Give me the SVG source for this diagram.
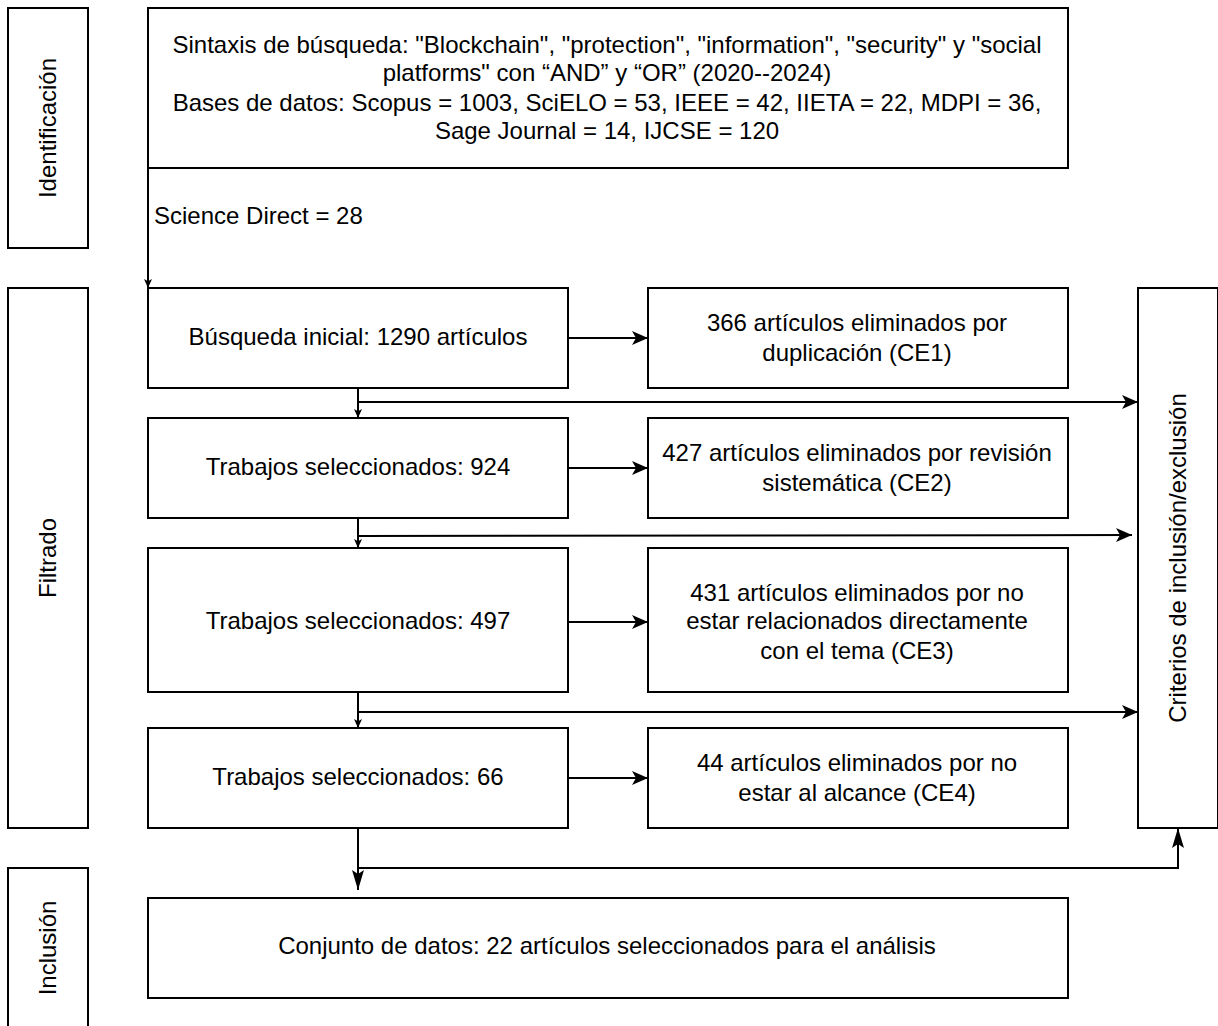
<svg xmlns="http://www.w3.org/2000/svg" width="1218" height="1026" viewBox="0 0 1218 1026">
<style>
.box{fill:#fff;stroke:#000;stroke-width:2}
.t{font-family:"Liberation Sans",Arial,sans-serif;font-size:24px;fill:#000;text-anchor:middle}
.tl{font-family:"Liberation Sans",Arial,sans-serif;font-size:24px;fill:#000}
.c{fill:none;stroke:#000;stroke-width:2}
</style>
<defs>
<marker id="big" markerUnits="userSpaceOnUse" markerWidth="16" markerHeight="14" refX="16" refY="7" orient="auto">
<path d="M0,0 L16,7 L0,14 L4,7 z" fill="#000"/>
</marker>
<marker id="tall" markerUnits="userSpaceOnUse" markerWidth="20" markerHeight="12" refX="20" refY="6" orient="auto">
<path d="M0,0 L20,6 L0,12 L4,6 z" fill="#000"/>
</marker>
<marker id="small" markerUnits="userSpaceOnUse" markerWidth="9" markerHeight="8" refX="9" refY="4" orient="auto">
<path d="M0,0 L9,4 L0,8 L2.2,4 z" fill="#000"/>
</marker>
</defs>
<g id="connectors">
<path class="c" d="M148,168 L148,288" marker-end="url(#small)"/>
<path class="c" d="M568,338 L648,338" marker-end="url(#big)"/>
<path class="c" d="M568,468 L648,468" marker-end="url(#big)"/>
<path class="c" d="M568,622 L648,622" marker-end="url(#big)"/>
<path class="c" d="M568,778 L648,778" marker-end="url(#big)"/>
<path class="c" d="M358,388 L358,418" marker-end="url(#small)"/>
<path class="c" d="M358,518 L358,548" marker-end="url(#small)"/>
<path class="c" d="M358,692 L358,728" marker-end="url(#small)"/>
<path class="c" d="M358,402 L1138,402" marker-end="url(#big)"/>
<path class="c" d="M358,536 L1132,535" marker-end="url(#big)"/>
<path class="c" d="M358,712 L1138,712" marker-end="url(#big)"/>
<path class="c" d="M358,828 L358,890" marker-end="url(#tall)"/>
<path class="c" d="M358,868 L1178,868 L1178,828" marker-end="url(#tall)"/>
</g>
<g id="identificacion">
<rect class="box" x="8" y="8" width="80" height="240"/>
<text class="t" transform="translate(56,128) rotate(-90)">Identificación</text>
</g>
<g id="filtrado">
<rect class="box" x="8" y="288" width="80" height="540"/>
<text class="t" transform="translate(56,558) rotate(-90)">Filtrado</text>
</g>
<g id="inclusion">
<rect class="box" x="8" y="868" width="80" height="170"/>
<text class="t" transform="translate(56,948) rotate(-90)">Inclusión</text>
</g>
<g id="criterios">
<rect class="box" x="1138" y="288" width="80" height="540"/>
<text class="t" transform="translate(1186,558) rotate(-90)">Criterios de inclusión/exclusión</text>
</g>
<g id="busqueda-sintaxis">
<rect class="box" x="148" y="8" width="920" height="160"/>
<text class="t" x="607" y="52.5">Sintaxis de búsqueda: "Blockchain", "protection", "information", "security" y "social</text>
<text class="t" x="607" y="80.5">platforms" con “AND” y “OR” (2020--2024)</text>
<text class="t" x="607" y="110.5">Bases de datos: Scopus = 1003, SciELO = 53, IEEE = 42, IIETA = 22, MDPI = 36,</text>
<text class="t" x="607" y="138.5">Sage Journal = 14, IJCSE = 120</text>
</g>
<g id="science-direct">
<text class="tl" x="154" y="223.5">Science Direct = 28</text>
</g>
<g id="busqueda-inicial">
<rect class="box" x="148" y="288" width="420" height="100"/>
<text class="t" x="358" y="345">Búsqueda inicial: 1290 artículos</text>
</g>
<g id="ce1">
<rect class="box" x="648" y="288" width="420" height="100"/>
<text class="t" x="857" y="330.5">366 artículos eliminados por</text>
<text class="t" x="857" y="360.5">duplicación (CE1)</text>
</g>
<g id="sel-924">
<rect class="box" x="148" y="418" width="420" height="100"/>
<text class="t" x="358" y="475">Trabajos seleccionados: 924</text>
</g>
<g id="ce2">
<rect class="box" x="648" y="418" width="420" height="100"/>
<text class="t" x="857" y="460.5">427 artículos eliminados por revisión</text>
<text class="t" x="857" y="490.5">sistemática (CE2)</text>
</g>
<g id="sel-497">
<rect class="box" x="148" y="548" width="420" height="144"/>
<text class="t" x="358" y="628.5">Trabajos seleccionados: 497</text>
</g>
<g id="ce3">
<rect class="box" x="648" y="548" width="420" height="144"/>
<text class="t" x="857" y="600.5">431 artículos eliminados por no</text>
<text class="t" x="857" y="628.5">estar relacionados directamente</text>
<text class="t" x="857" y="658.5">con el tema (CE3)</text>
</g>
<g id="sel-66">
<rect class="box" x="148" y="728" width="420" height="100"/>
<text class="t" x="358" y="784.5">Trabajos seleccionados: 66</text>
</g>
<g id="ce4">
<rect class="box" x="648" y="728" width="420" height="100"/>
<text class="t" x="857" y="770.5">44 artículos eliminados por no</text>
<text class="t" x="857" y="800.5">estar al alcance (CE4)</text>
</g>
<g id="conjunto">
<rect class="box" x="148" y="898" width="920" height="100"/>
<text class="t" x="607" y="953.5">Conjunto de datos: 22 artículos seleccionados para el análisis</text>
</g>
</svg>
